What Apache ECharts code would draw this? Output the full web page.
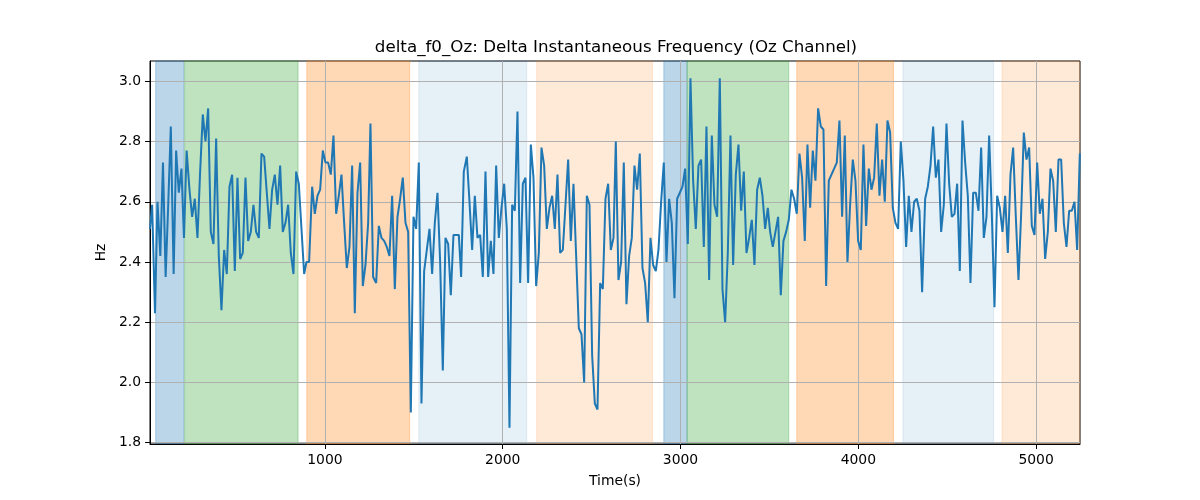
<!DOCTYPE html>
<html><head><meta charset="utf-8">
<script src="https://cdn.jsdelivr.net/npm/echarts@6/dist/echarts.min.js"></script>
<style>html,body{margin:0;padding:0;background:#fff}#c{width:1200px;height:500px}</style>
</head><body><div id="c"></div>
<script>
// ---- data ----
const timeS = [
16,28,44,58,74,89,104,119,133,149,163,178,193,207,222,238,253,268,283,298,313,328,343,358,373,388,403,418,433,448,463,478,493,508,523,538,553,568,583,598,613,628,643,658,673,688,703,718,733,748,763,778,793,808,823,838,853,883,
896,911,928,943,958,973,988,1003,1018,1033,1048,1063,1078,1093,1108,1123,1138,1153,1168,1183,1198,1213,1228,1243,1256,1271,1288,1303,1318,1333,1348,1363,1378,1393,1408,1423,1438,1453,1468,1483,1498,1513,1528,1543,1558,1573,1588,1603,1618,1633,1648,1663,1678,1693,1708,1723,1738,1753,
1766,1781,1798,1813,1828,1843,1858,1873,1888,1903,1918,1933,1948,1963,1978,1993,2008,2023,2038,2053,2068,2083,2098,2113,2128,2143,2158,2173,2188,2203,2218,2233,2248,2263,2278,2293,2308,2323,2338,2353,2368,2383,2398,2413,2428,2443,2458,2473,2488,2503,2518,2533,2548,2563,2578,2593,2608,2623,
2636,2651,2666,2681,2696,2711,2726,2741,2756,2771,2786,2801,2816,2831,2846,2861,2876,2891,2906,2921,2936,2951,2966,2981,2996,3011,3026,3041,3056,3071,3086,3101,3116,3131,3146,3161,3176,3191,3206,3221,3236,3251,3266,3281,3296,3311,3326,3341,3356,3371,3386,3401,3416,3431,3446,3461,3476,3491,
3504,3519,3534,3549,3564,3579,3594,3609,3624,3639,3654,3669,3684,3699,3714,3729,3744,3759,3774,3789,3804,3819,3834,3849,3864,3879,3894,3909,3924,3939,3954,3969,3984,3999,4014,4029,4044,4059,4074,4089,4104,4119,4134,4149,4164,4179,4194,4209,4224,4239,4254,4269,4284,4299,4314,4329,4344,4359,
4376,4391,4406,4421,4436,4451,4466,4481,4496,4511,4526,4541,4556,4571,4586,4601,4616,4631,4646,4661,4676,4691,4706,4721,4736,4751,4766,4781,4796,4811,4826,4841,4856,4871,4886,4901,4916,4931,4946,4961,4976,4991,5006,5021,5036,5051,5066,5081,5096,5111,5126,5141,5156,5171,5186,5201,5216,5231,5246
];
const deltaHz = [
2.51,2.59,2.23,2.60,2.42,2.73,2.35,2.60,2.85,2.36,2.77,2.63,2.71,2.48,2.77,2.64,2.55,2.61,2.48,2.70,2.89,2.80,2.91,2.50,2.46,2.81,2.42,2.24,2.44,2.36,2.65,2.69,2.37,2.68,2.41,2.43,2.68,2.47,2.50,2.59,2.50,2.48,2.76,2.75,2.63,2.51,2.64,2.69,2.59,2.72,2.50,2.53,2.59,2.43,2.36,2.70,2.66,2.36,
2.40,2.40,2.65,2.56,2.62,2.64,2.77,2.73,2.73,2.69,2.82,2.56,2.62,2.69,2.53,2.38,2.45,2.72,2.23,2.63,2.73,2.32,2.39,2.53,2.86,2.35,2.33,2.52,2.48,2.47,2.45,2.42,2.62,2.31,2.55,2.61,2.68,2.53,2.50,1.90,2.55,2.51,2.73,1.93,2.37,2.44,2.51,2.36,2.53,2.63,2.40,2.04,2.48,2.46,2.29,2.49,2.49,2.49,
2.35,2.70,2.75,2.60,2.44,2.62,2.48,2.49,2.35,2.70,2.35,2.47,2.36,2.72,2.48,2.58,2.66,2.51,1.85,2.59,2.57,2.90,2.33,2.66,2.68,2.33,2.79,2.68,2.32,2.43,2.78,2.72,2.51,2.58,2.62,2.51,2.69,2.43,2.44,2.59,2.74,2.47,2.66,2.42,2.18,2.16,2.00,2.62,2.59,2.09,1.93,1.91,2.33,2.31,2.61,2.66,2.44,2.48,
2.80,2.34,2.40,2.73,2.26,2.42,2.48,2.72,2.64,2.76,2.38,2.33,2.20,2.48,2.39,2.37,2.44,2.60,2.73,2.40,2.61,2.53,2.28,2.61,2.63,2.65,2.71,2.46,3.01,2.67,2.51,2.72,2.74,2.45,2.85,2.34,2.82,2.59,2.55,3.01,2.31,2.20,2.43,2.82,2.39,2.69,2.79,2.57,2.70,2.43,2.48,2.54,2.39,2.64,2.68,2.62,2.51,2.58,
2.50,2.45,2.50,2.55,2.29,2.47,2.50,2.54,2.64,2.61,2.56,2.76,2.68,2.47,2.79,2.58,2.77,2.67,2.91,2.85,2.84,2.32,2.67,2.69,2.71,2.73,2.87,2.55,2.82,2.40,2.59,2.74,2.67,2.47,2.44,2.79,2.52,2.71,2.64,2.68,2.86,2.62,2.74,2.60,2.87,2.83,2.58,2.53,2.51,2.80,2.67,2.45,2.62,2.50,2.60,2.61,2.57,2.30,
2.61,2.65,2.72,2.85,2.68,2.74,2.50,2.59,2.86,2.66,2.55,2.56,2.66,2.37,2.87,2.73,2.62,2.33,2.63,2.63,2.57,2.78,2.48,2.55,2.82,2.56,2.25,2.62,2.58,2.50,2.62,2.43,2.69,2.78,2.55,2.34,2.56,2.83,2.74,2.78,2.52,2.49,2.73,2.56,2.61,2.41,2.50,2.71,2.67,2.50,2.74,2.74,2.53,2.45,2.57,2.57,2.60,2.44,2.76
];
const xTicks = [1000, 2000, 3000, 4000, 5000];
const yTicks = [1.8, 2.0, 2.2, 2.4, 2.6, 2.8, 3.0];
const bandStart = [48, 211, 898, 1528, 2191, 2906, 3037, 3654, 4251, 4808];
const bandEnd   = [207, 849, 1477, 2135, 2842, 3037, 3609, 4198, 4761, 5247];
const bandKind  = ['blue','green','orange','lightblue','lightorange','blue','green','orange','lightblue','lightorange'];

// ---- styles ----
const kindColor = {
  blue: 'rgba(31,119,180,0.3)',
  green: 'rgba(44,160,44,0.3)',
  orange: 'rgba(255,127,14,0.3)',
  lightblue: 'rgba(31,119,180,0.11)',
  lightorange: 'rgba(255,127,14,0.16)'
};
const FONT = 'DejaVu Sans';

const lineData = timeS.map((t, i) => [t, deltaHz[i]]);
const areas = bandStart.map((s, i) => [
  {xAxis: s, itemStyle: {color: kindColor[bandKind[i]], borderColor: kindColor[bandKind[i]], borderWidth: 1}},
  {xAxis: bandEnd[i]}
]);

const chart = echarts.init(document.getElementById('c'), null, {renderer: 'canvas'});
chart.setOption({
  animation: false,
  backgroundColor: '#ffffff',
  title: {
    text: 'delta_f0_Oz: Delta Instantaneous Frequency (Oz Channel)',
    left: 611, top: 34, textAlign: 'center',
    textStyle: {fontFamily: FONT, fontSize: 16.7, fontWeight: 'normal', color: '#000'}
  },
  grid: {left: 150, right: 120, top: 61, bottom: 56, show: true, borderColor: '#000', borderWidth: 1, backgroundColor: 'transparent'},
  xAxis: {
    type: 'value', min: 16, max: 5247, z: 2,
    name: 'Time(s)', nameLocation: 'middle', nameGap: 30,
    nameTextStyle: {fontFamily: FONT, fontSize: 13.9, color: '#000'},
    axisLine: {show: true, onZero: false, lineStyle: {color: '#000', width: 1}},
    axisTick: {show: true, customValues: xTicks, length: 5, lineStyle: {color: '#000', width: 1}},
    axisLabel: {customValues: xTicks, margin: 9, fontFamily: FONT, fontSize: 13.9, color: '#000',
      formatter: v => String(Math.round(v))},
    splitLine: {show: true, lineStyle: {color: '#b0b0b0', width: 1}}
  },
  yAxis: {
    type: 'value', min: 1.7956, max: 3.0674, z: 2,
    name: 'Hz', nameLocation: 'middle', nameGap: 38,
    nameTextStyle: {fontFamily: FONT, fontSize: 13.9, color: '#000'},
    axisLine: {show: true, onZero: false, lineStyle: {color: '#000', width: 1}},
    axisTick: {show: true, customValues: yTicks, length: 5, lineStyle: {color: '#000', width: 1}},
    axisLabel: {customValues: yTicks, margin: 9, fontFamily: FONT, fontSize: 13.9, color: '#000',
      formatter: v => Number(v).toFixed(1)},
    splitLine: {show: true, lineStyle: {color: '#b0b0b0', width: 1}}
  },
  series: [
    {type: 'line', data: [], z: 1, silent: true, markArea: {silent: true, data: areas}},
    {type: 'line', data: lineData, z: 3, showSymbol: false, symbol: 'none',
      lineStyle: {color: '#1f77b4', width: 2}, itemStyle: {color: '#1f77b4'}}
  ]
});
</script></body></html>
